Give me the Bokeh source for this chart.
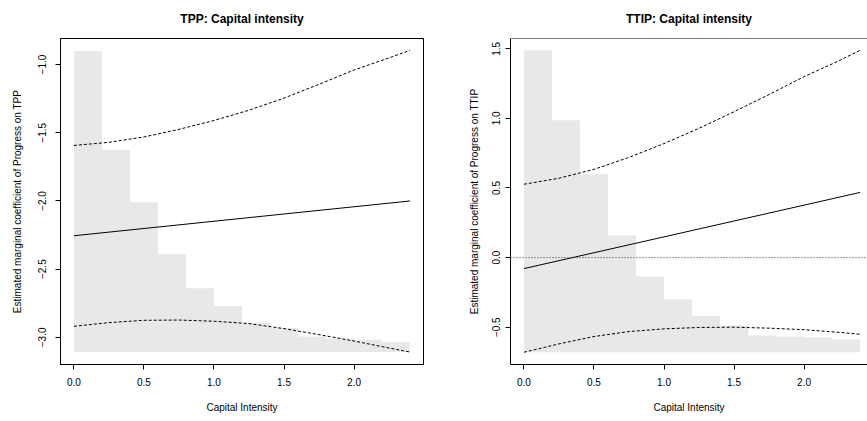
from bokeh.plotting import figure
from bokeh.models import FixedTicker, Span, Range1d, CustomJSTickFormatter
from bokeh.layouts import row
from bokeh.embed import file_html
from bokeh.resources import INLINE

# ---------------- data ----------------
bin_edges = [0.0, 0.2, 0.4, 0.6, 0.8, 1.0, 1.2, 1.4, 1.6, 1.8, 2.0, 2.2, 2.4]

# TPP panel
tpp_hist_base = -3.108
tpp_hist_top = [-0.901, -1.624, -2.009, -2.391, -2.640, -2.771,
                -2.893, -2.932, -2.993, -3.010, -3.017, -3.035]
curve_x = [0.0, 0.25, 0.5, 0.75, 1.0, 1.25, 1.5, 1.75, 2.0, 2.25, 2.4]
tpp_line_x = [0.0, 2.4]
tpp_line_y = [-2.255, -2.000]
tpp_upper = [-1.593, -1.570, -1.531, -1.475, -1.410, -1.335,
             -1.246, -1.145, -1.040, -0.951, -0.896]
tpp_lower = [-2.919, -2.892, -2.875, -2.873, -2.882, -2.899,
             -2.936, -2.980, -3.027, -3.078, -3.108]
tpp_yticks = [-3.0, -2.5, -2.0, -1.5, -1.0]

# TTIP panel
ttip_hist_base = -0.680
ttip_hist_top = [1.490, 0.987, 0.598, 0.159, -0.135, -0.299,
                 -0.419, -0.488, -0.560, -0.567, -0.574, -0.589]
ttip_line_x = [0.0, 2.4]
ttip_line_y = [-0.079, 0.468]
ttip_upper = [0.527, 0.570, 0.634, 0.720, 0.819, 0.929,
              1.048, 1.171, 1.300, 1.414, 1.489]
ttip_lower = [-0.680, -0.620, -0.567, -0.531, -0.512, -0.502,
              -0.500, -0.507, -0.518, -0.537, -0.551]
ttip_yticks = [-0.5, 0.0, 0.5, 1.0, 1.5]
ttip_ref = 0.0

xticks = [0.0, 0.5, 1.0, 1.5, 2.0]

FONT = "Liberation Sans"
BAR = "#E8E8E8"

fmt_code = "return tick.toFixed(1).replace('-', '\u2212');"


def make_panel(title, ylabel, hist_top, hist_base, line_x, line_y, upper, lower,
               yticks, x_range, y_range, width, border_left, border_right,
               tick_standoff_y, label_standoff_y, outline=True):
    p = figure(width=width, height=421, output_backend="svg", toolbar_location=None,
               x_range=Range1d(*x_range), y_range=Range1d(*y_range),
               min_border_left=border_left, min_border_right=border_right,
               min_border_top=38, min_border_bottom=57,
               background_fill_color="white", border_fill_color="white")
    p.title.text = title
    p.title.align = "center"
    p.title.vertical_align = "top"
    p.title.text_font = FONT
    p.title.text_font_size = "12px"
    p.title.text_font_style = "bold"
    p.title.text_color = "black"
    p.title.standoff = 22

    p.grid.visible = False
    p.outline_line_color = "black" if outline else None
    p.outline_line_width = 1

    p.quad(left=bin_edges[:-1], right=bin_edges[1:], bottom=hist_base, top=hist_top,
           fill_color=BAR, line_color=None)
    p.line(curve_x, upper, line_color="black", line_width=1, line_dash="3 2")
    p.line(curve_x, lower, line_color="black", line_width=1, line_dash="3 2")
    p.line(line_x, line_y, line_color="black", line_width=1)

    for ax in (p.xaxis[0], p.yaxis[0]):
        ax.axis_line_color = "black"
        ax.major_tick_line_color = "black"
        ax.major_tick_out = 5
        ax.major_tick_in = 0
        ax.minor_tick_line_color = None
        ax.major_label_text_font = FONT
        ax.major_label_text_font_size = "10px"
        ax.major_label_text_color = "black"
        ax.axis_label_text_font = FONT
        ax.axis_label_text_font_size = "10px"
        ax.axis_label_text_font_style = "normal"
        ax.axis_label_text_color = "black"
        ax.formatter = CustomJSTickFormatter(code=fmt_code)

    p.xaxis.ticker = FixedTicker(ticks=xticks)
    p.xaxis.axis_label = "Capital Intensity"
    p.xaxis.major_label_standoff = 8
    p.xaxis.axis_label_standoff = 13

    p.yaxis.ticker = FixedTicker(ticks=yticks)
    p.yaxis.axis_label = ylabel
    p.yaxis.major_label_orientation = "vertical"
    p.yaxis.major_label_standoff = tick_standoff_y
    p.yaxis.axis_label_standoff = label_standoff_y
    return p


p1 = make_panel("TPP: Capital intensity", "Estimated marginal coefficient of Progress on TPP",
                tpp_hist_top, tpp_hist_base, tpp_line_x, tpp_line_y, tpp_upper, tpp_lower,
                tpp_yticks, (-0.096, 2.496), (-3.199, -0.809), 433, 60, 10, 9, 13)

ttip_yrange = (-0.768, 1.574)
p2 = make_panel("TTIP: Capital intensity", "Estimated marginal coefficient of Progress on TTIP",
                ttip_hist_top, ttip_hist_base, ttip_line_x, ttip_line_y, ttip_upper, ttip_lower,
                ttip_yticks, (-0.096, 2.453), ttip_yrange, 434, 77, 0, 5, 10, outline=False)
p2.add_layout(Span(location=ttip_ref, dimension="width", line_color="#333333",
                   line_width=1, line_dash="1 2"))
# top edge of the (cropped) box
p2.add_layout(Span(location=ttip_yrange[1], dimension="width", line_color="black",
                   line_width=1))

layout = row(p1, p2)
open("out.html", "w").write(file_html(layout, INLINE))
